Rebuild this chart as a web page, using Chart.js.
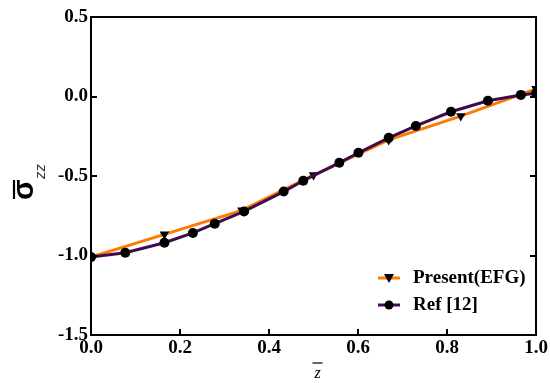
<!DOCTYPE html>
<html>
<head>
<meta charset="utf-8">
<script src="https://cdn.jsdelivr.net/npm/chart.js"></script>
<style>
  html, body { margin: 0; padding: 0; background: #fff; }
  #wrap { width: 550px; height: 383px; }
</style>
</head>
<body>
<div id="wrap"><canvas id="stressChart" width="550" height="383"></canvas></div>
<script>
// normalised thickness coordinate and normal stress, reference solution
const refZ = [0, 0.077, 0.165, 0.229, 0.278, 0.344, 0.433, 0.477, 0.558, 0.601, 0.669, 0.730, 0.809, 0.892, 0.966, 1.0];
const refSigma = [-1.01, -0.983, -0.92, -0.858, -0.80, -0.723, -0.598, -0.53, -0.417, -0.354, -0.26, -0.185, -0.096, -0.027, 0.01, 0.02];

// EFG results
const efgZ = [0, 0.165, 0.339, 0.50, 0.669, 0.831, 1.0];
const efgSigma = [-1.01, -0.867, -0.716, -0.494, -0.273, -0.123, 0.048];

const xTicks = [0, 0.2, 0.4, 0.6, 0.8, 1.0];
const yTicks = [-1.5, -1.0, -0.5, 0.0, 0.5];

const ORANGE = '#ff7a00';
const PURPLE = '#3e0c4c';
const serifBold = 'bold 19px "Liberation Serif", "Times New Roman", serif';

function toPoints(xs, ys) {
  return xs.map((x, i) => ({ x: x, y: ys[i] }));
}

// frame, inward ticks, axis titles and the inset legend
const decorations = {
  id: 'decorations',
  afterDraw(chart) {
    const ctx = chart.ctx;
    const a = chart.chartArea;
    const xs = chart.scales.x, ys = chart.scales.y;
    ctx.save();
    ctx.strokeStyle = '#000';
    ctx.lineWidth = 2;
    ctx.strokeRect(a.left, a.top, a.right - a.left, a.bottom - a.top);

    ctx.beginPath();
    xTicks.slice(1, -1).forEach(v => {
      const px = Math.round(xs.getPixelForValue(v));
      ctx.moveTo(px, a.bottom); ctx.lineTo(px, a.bottom - 6);
    });
    yTicks.slice(1, -1).forEach(v => {
      const py = Math.round(ys.getPixelForValue(v));
      ctx.moveTo(a.left, py); ctx.lineTo(a.left + 6, py);
      ctx.moveTo(a.right, py); ctx.lineTo(a.right - 6, py);
    });
    ctx.stroke();

    // x title: z with overbar
    ctx.fillStyle = '#000';
    ctx.font = 'italic 16px "Liberation Serif", serif';
    ctx.textAlign = 'center';
    ctx.textBaseline = 'alphabetic';
    const xc = (a.left + a.right) / 2 + 4;
    ctx.fillText('z', xc, 378);
    ctx.lineWidth = 1.2;
    ctx.beginPath();
    ctx.moveTo(xc - 5, 363); ctx.lineTo(xc + 5, 363);
    ctx.stroke();

    // y title: sigma bar with zz subscript, rotated
    ctx.translate(33, 200);
    ctx.rotate(-Math.PI / 2);
    ctx.textAlign = 'left';
    ctx.font = 'bold 30px "Liberation Sans", Arial, sans-serif';
    ctx.fillText('σ', 0, 0);
    ctx.lineWidth = 2.2;
    ctx.beginPath();
    ctx.moveTo(1, -19); ctx.lineTo(20, -19);
    ctx.stroke();
    ctx.fillStyle = '#333';
    ctx.font = 'italic 15px "Liberation Sans", Arial, sans-serif';
    ctx.fillText('zz', 21, 12);
    ctx.setTransform(1, 0, 0, 1, 0, 0);

    // legend
    const items = [chart.data.datasets[1], chart.data.datasets[0]];
    items.forEach((ds, i) => {
      const y = 278 + i * 27;
      ctx.strokeStyle = ds.borderColor;
      ctx.lineWidth = 3;
      ctx.beginPath();
      ctx.moveTo(378, y); ctx.lineTo(400, y);
      ctx.stroke();
      ctx.fillStyle = '#000';
      ctx.beginPath();
      if (ds.pointStyle === 'triangle') {
        ctx.moveTo(384, y - 4); ctx.lineTo(394, y - 4); ctx.lineTo(389, y + 5);
      } else {
        ctx.arc(389, y, 4.5, 0, Math.PI * 2);
      }
      ctx.fill();
      ctx.font = serifBold;
      ctx.textAlign = 'left';
      ctx.textBaseline = 'middle';
      ctx.fillText(ds.label, 413, y);
    });
    ctx.restore();
  }
};

new Chart(document.getElementById('stressChart').getContext('2d'), {
  type: 'scatter',
  data: {
    datasets: [{
      label: 'Ref [12]',
      data: toPoints(refZ, refSigma),
      showLine: true,
      borderColor: PURPLE,
      borderWidth: 3,
      pointStyle: 'circle',
      pointRadius: 5,
      pointBackgroundColor: '#000',
      pointBorderColor: '#000',
      pointBorderWidth: 0,
      tension: 0,
      order: 0
    }, {
      label: 'Present(EFG)',
      data: toPoints(efgZ, efgSigma),
      showLine: true,
      borderColor: ORANGE,
      borderWidth: 3,
      pointStyle: 'triangle',
      rotation: 180,
      pointRadius: 5.5,
      pointBackgroundColor: '#000',
      pointBorderColor: '#000',
      pointBorderWidth: 0,
      tension: 0,
      order: 1
    }]
  },
  options: {
    responsive: false,
    animation: false,
    layout: { padding: { left: 0, top: 17, right: 14, bottom: 0 } },
    plugins: { legend: { display: false }, tooltip: { enabled: false } },
    scales: {
      x: {
        type: 'linear',
        min: 0, max: 1,
        afterBuildTicks: s => { s.ticks = xTicks.map(v => ({ value: v })); },
        afterFit: s => { s.height = 48; },
        grid: { display: false, drawTicks: false },
        border: { display: false },
        ticks: {
          color: '#000', padding: 2, maxRotation: 0,
          font: { family: '"Liberation Serif", serif', size: 19, weight: 'bold' },
          callback: v => v.toFixed(1)
        }
      },
      y: {
        type: 'linear',
        min: -1.5, max: 0.5,
        afterBuildTicks: s => { s.ticks = yTicks.map(v => ({ value: v })); },
        afterFit: s => { s.width = 91; },
        grid: { display: false, drawTicks: false },
        border: { display: false },
        ticks: {
          color: '#000', padding: 3,
          font: { family: '"Liberation Serif", serif', size: 19, weight: 'bold' },
          callback: v => v.toFixed(1)
        }
      }
    }
  },
  plugins: [decorations]
});
</script>
</body>
</html>
